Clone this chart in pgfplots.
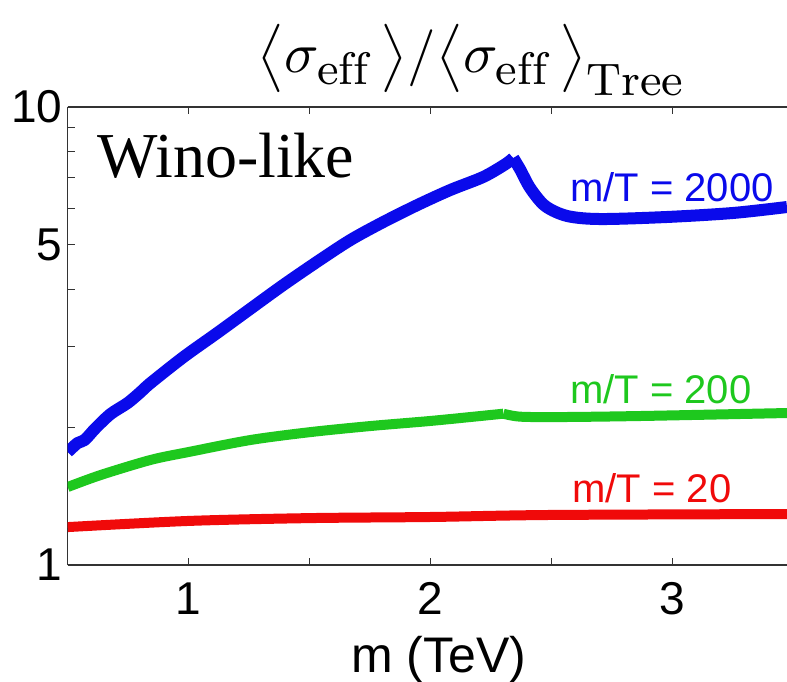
\documentclass[border=0pt]{standalone}
\usepackage{fontspec}
\usepackage{graphicx}
\usepackage{pgfplots}
\pgfplotsset{compat=1.18}
\DeclareMathSizes{10}{10}{8}{6}
\newfontfamily\arial{Liberation Sans}
\newfontfamily\tnr{Liberation Serif}
\definecolor{cblue}{RGB}{10,10,235}
\definecolor{cgreen}{RGB}{30,200,30}
\definecolor{cred}{RGB}{240,10,10}
\begin{document}
\begin{tikzpicture}
\useasboundingbox (-33.85pt,-58pt) rectangle (359.65pt,282.5pt);
\begin{axis}[
  at={(0pt,0pt)}, anchor=south west,
  scale only axis, width=359.65pt, height=229pt,
  xmin=0.5, xmax=3.4752, ymin=1, ymax=10, ymode=log,
  axis x line*=box, axis y line*=left,
  axis line style={black!80, line width=0.6pt},
  xtick={1,1.5,2,2.5,3}, xticklabels={1,,2,,3},
  ytick={1,2,3,4,5,6,7,8,9,10}, yticklabels={1,,,,5,,,,,10},
  minor ytick={},
  tick align=inside, major tick length=3.5pt,
  tick style={black!80, line width=0.5pt},
  /pgf/number format/assume math mode=true,
  ticklabel style={font=\arial\fontsize{23}{23}\selectfont, inner sep=0pt},
  yticklabel style={xshift=-2.5pt},
  xticklabel style={yshift=-8.5pt},
  xlabel={m (TeV)},
  xlabel style={font=\arial\fontsize{25}{25}\selectfont, at={(rel axis cs:0.516,0)}, anchor=base, yshift=-53.5pt, inner sep=0pt},
  every axis title shift=0pt,
  title={\resizebox{214pt}{!}{$\big\langle\sigma_{\mathrm{eff}}\,\big\rangle/\big\langle\sigma_{\mathrm{eff}}\,\big\rangle_{\mathrm{Tree}}$}},
  title style={at={(rel axis cs:0.562,1.103)}, anchor=center, inner sep=0pt},
  clip=true,
]
\addplot[cred, line width=5pt, line join=round, smooth] coordinates {
(0.5,1.210) (1.0,1.248) (1.504,1.266) (2.0,1.273) (2.496,1.286) (3.4752,1.292)
};
\addplot[cgreen, line width=5pt, line join=round, smooth] coordinates {
(0.5,1.480) (0.636,1.572) (0.843,1.696) (1.0,1.765) (1.256,1.875) (1.504,1.951)
(1.752,2.011) (2.0,2.063) (2.207,2.115) (2.302,2.140)
};
\addplot[cgreen, line width=5pt, line join=round, smooth] coordinates {
(2.302,2.140) (2.372,2.108) (2.537,2.104) (2.868,2.115) (3.4752,2.147)
};
\addplot[cblue, line width=6pt, line join=round, smooth, tension=0.5] coordinates {
(0.5,1.765) (0.5413,1.847) (0.5702,1.875) (0.6157,1.991) (0.6777,2.137)
(0.7479,2.258) (0.8017,2.386) (0.8430,2.497) (0.9793,2.846) (1.1198,3.215)
(1.2562,3.628) (1.3926,4.090) (1.5331,4.598) (1.6694,5.124) (1.8058,5.610)
(1.9463,6.109) (2.0826,6.589) (2.2190,7.036) (2.3099,7.500) (2.3430,7.740)
};
\addplot[cblue, line width=6pt, line join=round, smooth, tension=0.5] coordinates {
(2.3430,7.740) (2.3719,7.300) (2.4132,6.650) (2.4752,6.079) (2.5661,5.781) (2.7025,5.694)
(2.9793,5.753) (3.2521,5.870) (3.4752,6.049)
};
\node[anchor=base west, font=\tnr\fontsize{32}{32}\selectfont, inner sep=0pt] at (rel axis cs:0.0407,0.847) {Wino-like};
\node[anchor=base west, font=\arial\fontsize{20}{20}\selectfont, text=cblue, inner sep=0pt] at (rel axis cs:0.698,0.7926) {m/T = 2000};
\node[anchor=base west, font=\arial\fontsize{20}{20}\selectfont, text=cgreen, inner sep=0pt] at (rel axis cs:0.698,0.3537) {m/T = 200};
\node[anchor=base west, font=\arial\fontsize{20}{20}\selectfont, text=cred, inner sep=0pt] at (rel axis cs:0.701,0.1354) {m/T = 20};
\end{axis}
\end{tikzpicture}
\end{document}
